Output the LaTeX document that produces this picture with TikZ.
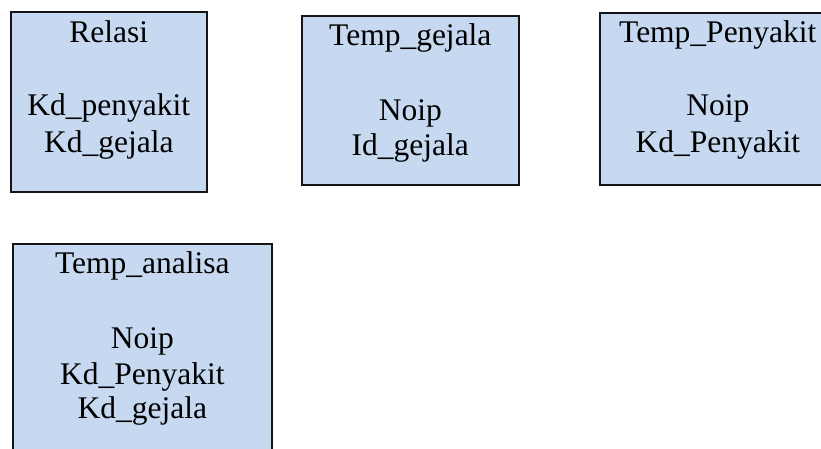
\documentclass[tikz,border=0pt]{standalone}
\usepackage{fontspec}
\setmainfont{Liberation Serif}
\usetikzlibrary{calc}
\definecolor{tablefill}{RGB}{198,217,240}
\definecolor{tableedge}{RGB}{20,20,20}
\tikzset{
  tablebox/.style={rectangle, draw=tableedge, line width=1.6pt, fill=tablefill,
    inner sep=0pt, anchor=north west},
  field/.style={anchor=base, inner sep=0pt, font=\fontsize{31.5}{36}\selectfont},
}
\begin{document}
\begin{tikzpicture}[x=1pt,y=-1pt]
\useasboundingbox (0,0) rectangle (821,448);
\clip (0,0) rectangle (821,448);

% table boxes
\node[tablebox, minimum width=196pt, minimum height=180pt] (relasi) at (10,11) {};
\node[tablebox, minimum width=217pt, minimum height=169pt] (tgejala) at (301,15) {};
\node[tablebox, minimum width=236pt, minimum height=172pt] (tpenyakit) at (599,12) {};
\node[tablebox, minimum width=259pt, minimum height=215pt] (tanalisa) at (12,243) {};

% Relasi
\node[field] (relasi-t)  at ($(relasi.north)+(0,31)$)  {Relasi};
\node[field] (relasi-f1) at ($(relasi.north)+(0,104)$) {Kd\_penyakit};
\node[field] (relasi-f2) at ($(relasi.north)+(0,141)$) {Kd\_gejala};

% Temp_gejala
\node[field] (tgejala-t)  at ($(tgejala.north)+(0,30)$)  {Temp\_gejala};
\node[field] (tgejala-f1) at ($(tgejala.north)+(0,105)$) {Noip};
\node[field] (tgejala-f2) at ($(tgejala.north)+(0,140)$) {Id\_gejala};

% Temp_Penyakit
\node[field] (tpenyakit-t)  at ($(tpenyakit.north)+(0,30)$)  {Temp\_Penyakit};
\node[field] (tpenyakit-f1) at ($(tpenyakit.north)+(0,103)$) {Noip};
\node[field] (tpenyakit-f2) at ($(tpenyakit.north)+(0,140)$) {Kd\_Penyakit};

% Temp_analisa
\node[field] (tanalisa-t)  at ($(tanalisa.north)+(0,30)$)  {Temp\_analisa};
\node[field] (tanalisa-f1) at ($(tanalisa.north)+(0,105)$) {Noip};
\node[field] (tanalisa-f2) at ($(tanalisa.north)+(0,141)$) {Kd\_Penyakit};
\node[field] (tanalisa-f3) at ($(tanalisa.north)+(0,175)$) {Kd\_gejala};
\end{tikzpicture}
\end{document}
